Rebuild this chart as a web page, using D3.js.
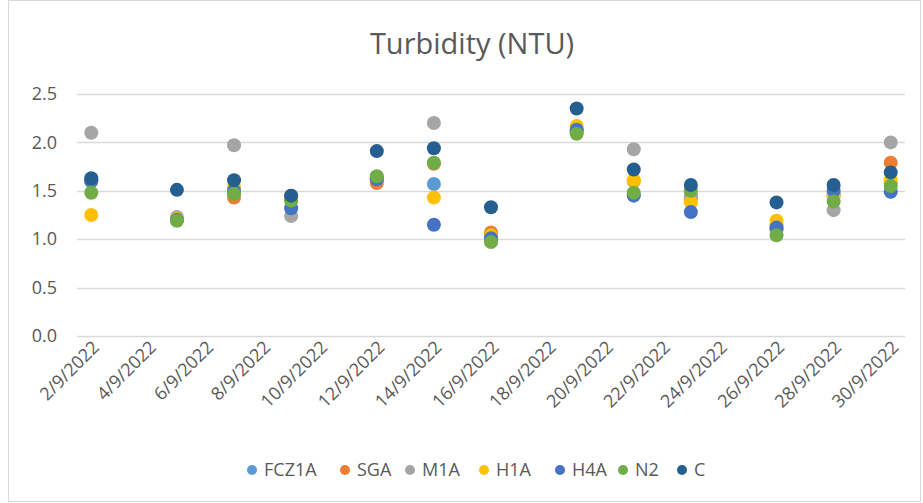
<!DOCTYPE html>
<html>
<head>
<meta charset="utf-8">
<script src="https://cdn.jsdelivr.net/npm/d3@7"></script>
<style>
  body { margin: 0; background: #fff; }
  svg { font-family: "Open Sans", sans-serif; }
</style>
</head>
<body>
<svg id="chart" width="923" height="503"></svg>
<script>
// Sampling days (September 2022)
const days = [2, 5, 7, 9, 12, 14, 16, 19, 21, 23, 26, 28, 30];
const tickDays = [2, 4, 6, 8, 10, 12, 14, 16, 18, 20, 22, 24, 26, 28, 30];
const yTicks = [0, 0.5, 1.0, 1.5, 2.0, 2.5];

// Turbidity readings per site
const FCZ1A = [1.60, 1.20, 1.48, 1.40, 1.62, 1.57, 1.00, 2.12, 1.46, 1.45, 1.10, 1.47, 1.58];
const SGA   = [1.60, 1.20, 1.43, 1.45, 1.58, 1.78, 1.07, 2.12, 1.60, 1.42, 1.15, 1.45, 1.79];
const M1A   = [2.10, 1.23, 1.97, 1.24, 1.63, 2.20, 1.00, 2.10, 1.93, 1.45, 1.10, 1.30, 2.00];
const H1A   = [1.25, 1.21, 1.54, 1.40, 1.62, 1.43, 1.04, 2.17, 1.61, 1.38, 1.19, 1.45, 1.61];
const H4A   = [1.60, 1.20, 1.50, 1.32, 1.62, 1.15, 1.01, 2.13, 1.45, 1.28, 1.12, 1.50, 1.49];
const N2    = [1.48, 1.19, 1.47, 1.40, 1.65, 1.79, 0.97, 2.09, 1.48, 1.50, 1.04, 1.39, 1.55];
const C     = [1.63, 1.51, 1.61, 1.45, 1.91, 1.94, 1.33, 2.35, 1.72, 1.56, 1.38, 1.56, 1.69];

const seriesNames = ["FCZ1A", "SGA", "M1A", "H1A", "H4A", "N2", "C"];
const seriesValues = [FCZ1A, SGA, M1A, H1A, H4A, N2, C];
const colors = ["#5B9BD5", "#ED7D31", "#A5A5A5", "#FFC000", "#4472C4", "#70AD47", "#255E91"];

function drawChart() {
    const svg = d3.select("#chart");
    const textColor = "#595959";

    // chart border
    svg.append("rect")
        .attr("x", 8.5).attr("y", 0.5)
        .attr("width", 912).attr("height", 501)
        .attr("fill", "#fff")
        .attr("stroke", "#d9d9d9");

    const left = 77, right = 905, top = 94, bottom = 336;

    // each day gets its own slot, points sit in the middle of it
    const x = d3.scaleLinear()
        .domain([1.5, 30.5])
        .range([left, right]);

    const y = d3.scaleLinear()
        .domain([0, 2.5])
        .range([bottom, top]);

    // gridlines
    svg.append("g")
        .selectAll("line")
        .data(yTicks)
        .enter()
        .append("line")
        .attr("x1", left).attr("x2", right)
        .attr("y1", d => Math.round(y(d)) + 0.5)
        .attr("y2", d => Math.round(y(d)) + 0.5)
        .attr("stroke", "#d9d9d9")
        .attr("stroke-width", 1.3);

    // y axis labels
    const yAxis = svg.append("g")
        .attr("transform", `translate(${left - 20},0)`)
        .call(d3.axisLeft(y).tickValues(yTicks).tickFormat(d3.format(".1f")).tickSize(0));
    yAxis.select(".domain").remove();
    yAxis.selectAll("text")
        .attr("fill", textColor)
        .attr("font-size", 18)
        .attr("font-family", "Open Sans, sans-serif")
        .attr("x", 0);

    // x axis labels, rotated
    const xAxis = svg.append("g")
        .attr("transform", `translate(0,${bottom + 8})`)
        .call(d3.axisBottom(x).tickValues(tickDays).tickFormat(d => `${d}/9/2022`).tickSize(0));
    xAxis.select(".domain").remove();
    xAxis.selectAll("text")
        .attr("fill", textColor)
        .attr("font-size", 18)
        .attr("font-family", "Open Sans, sans-serif")
        .attr("text-anchor", "end")
        .attr("y", 0)
        .attr("dy", "0.35em")
        .attr("transform", "translate(4,0) rotate(-45)");

    // points
    seriesValues.forEach((vals, s) => {
        svg.append("g")
            .selectAll("circle")
            .data(vals)
            .enter()
            .append("circle")
            .attr("cx", (d, i) => x(days[i]))
            .attr("cy", d => y(d))
            .attr("r", 7)
            .attr("fill", colors[s]);
    });

    // title
    svg.append("text")
        .attr("x", 472)
        .attr("y", 54)
        .attr("text-anchor", "middle")
        .attr("fill", textColor)
        .attr("font-size", 29)
        .text("Turbidity (NTU)");

    // legend
    const legendX = [252, 345, 410, 484, 560, 623, 682];
    const legend = svg.append("g")
        .selectAll("g")
        .data(seriesNames)
        .enter()
        .append("g")
        .attr("transform", (d, i) => `translate(${legendX[i]},470)`);
    legend.append("circle")
        .attr("r", 5)
        .attr("fill", (d, i) => colors[i]);
    legend.append("text")
        .attr("x", 12)
        .attr("dy", "0.36em")
        .attr("fill", textColor)
        .attr("font-size", 18)
        .text(d => d);
}

drawChart();
</script>
</body>
</html>
